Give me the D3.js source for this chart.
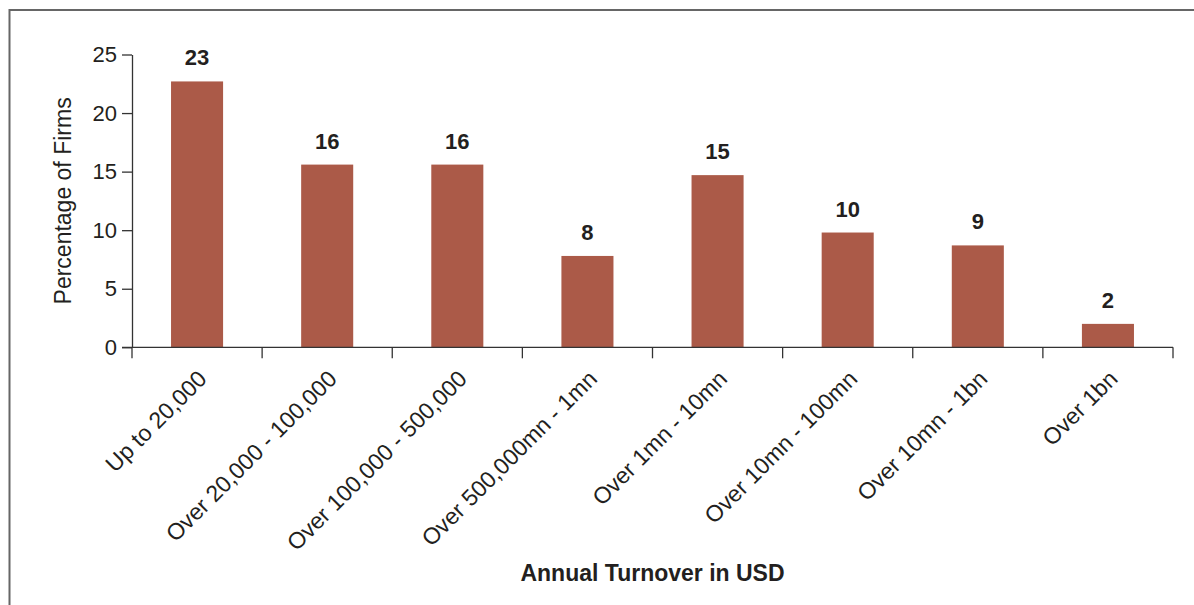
<!DOCTYPE html>
<html>
<head>
<meta charset="utf-8">
<script src="https://cdn.jsdelivr.net/npm/d3@7"></script>
<style>
  html, body { margin: 0; padding: 0; background: #fff; }
  svg { display: block; font-family: "Liberation Sans", Arial, Helvetica, sans-serif; }
</style>
</head>
<body>
<svg id="chart" width="1194" height="605"></svg>
<script>
const categories = ["Up to 20,000", "Over 20,000 - 100,000", "Over 100,000 - 500,000", "Over 500,000mn - 1mn",
                    "Over 1mn - 10mn", "Over 10mn - 100mn", "Over 10mn - 1bn", "Over 1bn"];
const values = [22.7, 15.6, 15.6, 7.8, 14.7, 9.8, 8.7, 2.0];
const valueLabels = ["23", "16", "16", "8", "15", "10", "9", "2"];
const yTicks = [0, 5, 10, 15, 20, 25];
const yTitle = "Percentage of Firms";
const xTitle = "Annual Turnover in USD";

(function () {
const svg = d3.select("#chart");
const W = 1194, H = 605;
const mLeft = 132, mRight = 1173, mTop = 54.5, mBottom = 347.3;
const axisColor = "#333";
const textColor = "#231f20";

// frame
svg.append("rect").attr("x", 9.5).attr("y", 10).attr("width", W + 20).attr("height", H + 20)
  .attr("fill", "none").attr("stroke", "#666").attr("stroke-width", 2);

const x = d3.scaleBand().domain(categories).range([mLeft, mRight]).paddingInner(0.6).paddingOuter(0.3);
const y = d3.scaleLinear().domain([0, 25]).range([mBottom, mTop]);

// bars
svg.append("g").selectAll("rect").data(categories).join("rect")
  .attr("x", d => x(d))
  .attr("y", (d, i) => y(values[i]))
  .attr("width", x.bandwidth())
  .attr("height", (d, i) => y(0) - y(values[i]))
  .attr("fill", "#ab5a48");

// value labels
svg.append("g").selectAll("text").data(categories).join("text")
  .attr("x", d => x(d) + x.bandwidth() / 2)
  .attr("y", (d, i) => y(values[i]) - 16)
  .attr("text-anchor", "middle")
  .attr("font-size", 22).attr("font-weight", "bold").attr("fill", textColor)
  .text((d, i) => valueLabels[i]);

// y axis
const yAxis = svg.append("g").attr("transform", `translate(${mLeft},0)`)
  .call(d3.axisLeft(y).tickValues(yTicks).tickSize(10).tickPadding(5).tickSizeOuter(0));
yAxis.select(".domain").attr("stroke", axisColor).attr("stroke-width", 1.3);
yAxis.selectAll(".tick line").attr("stroke", axisColor).attr("stroke-width", 1.3);
yAxis.selectAll(".tick text").attr("font-size", 22).attr("fill", textColor)
  .attr("font-family", "Liberation Sans, Arial, sans-serif");

// x axis: line + boundary ticks
const step = x.step();
const boundaries = d3.range(categories.length + 1).map(i => mLeft + i * step);
const xg = svg.append("g");
xg.append("line").attr("x1", mLeft - 10).attr("x2", mRight).attr("y1", mBottom).attr("y2", mBottom)
  .attr("stroke", axisColor).attr("stroke-width", 1.3);
xg.selectAll("line.tk").data(boundaries).join("line").attr("class", "tk")
  .attr("x1", d => d).attr("x2", d => d).attr("y1", mBottom).attr("y2", mBottom + 11)
  .attr("stroke", axisColor).attr("stroke-width", 1.3);

// x labels
xg.selectAll("text").data(categories).join("text")
  .attr("transform", d => `translate(${x(d) + x.bandwidth() / 2 + 11},${mBottom + 33}) rotate(-45)`)
  .attr("text-anchor", "end")
  .attr("font-size", 23).attr("fill", textColor)
  .text(d => d);

// titles
svg.append("text").attr("x", (mLeft + mRight) / 2).attr("y", 581)
  .attr("text-anchor", "middle").attr("font-size", 23).attr("font-weight", "bold").attr("fill", textColor)
  .text(xTitle);
svg.append("text").attr("transform", `translate(71,${(mTop + mBottom) / 2}) rotate(-90)`)
  .attr("text-anchor", "middle").attr("font-size", 23).attr("fill", textColor)
  .text(yTitle);
})();
</script>
</body>
</html>
